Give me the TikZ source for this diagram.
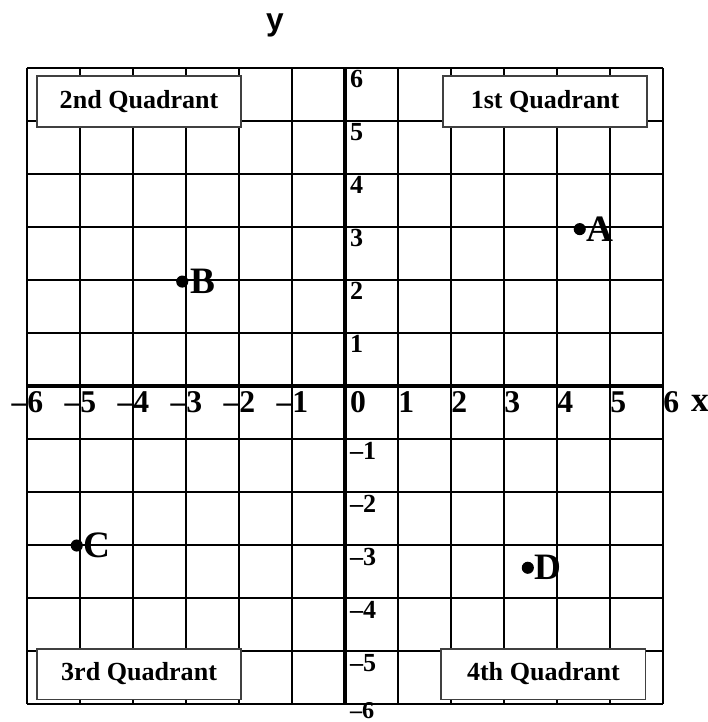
\documentclass[tikz,border=0pt]{standalone}
\usepackage{fontspec}
\setmainfont{Liberation Serif}
\newfontfamily\arialfont{Liberation Sans}
\tikzset{
  quadbox/.style={draw=black!75,line width=1pt,fill=white,minimum width=3.85cm,minimum height=0.96cm,font=\fontsize{14}{16}\selectfont\bfseries},
  ptlabel/.style={anchor=west,inner sep=0pt,font=\fontsize{20}{24}\selectfont\bfseries},
  ptdot/.style={circle,fill,inner sep=0pt,minimum size=6.5pt},
  xnum/.style={anchor=north west,inner sep=0pt,font=\fontsize{17}{19}\selectfont\bfseries},
  ynum/.style={anchor=north west,inner sep=0pt,font=\fontsize{14}{16}\selectfont\bfseries}
}
\begin{document}
\begin{tikzpicture}
  \useasboundingbox (-6.509,-6.34) rectangle (6.849,7.283);
  \draw[line width=1.2pt] (-6,-6) grid (6,6);
  \draw[line width=2.4pt] (-6,0) -- (6,0);
  \draw[line width=2.4pt] (0,-6) -- (0,6);
  \foreach \i in {1,...,6} {
    \node[xnum] at (\i,-0.1) {\i};
    \node[xnum] at (-\i,-0.1) {\llap{–}\i};
    \node[ynum] at (0.09,\i-0.04) {\i};
  }
  \foreach \i in {1,...,5}
    \node[ynum] at (0.09,-\i-0.06) {–\i};
  \node[ynum,anchor=south west,font=\fontsize{13}{15}\selectfont\bfseries] (ysix) at (0.09,-6.28) {–6};
  \node[xnum] (zero) at (0.09,-0.1) {0};
  \node[font=\fontsize{19}{21}\selectfont\bfseries] (xlab) at (6.70,-0.32) {x};
  \node[font=\arialfont\fontsize{17}{19}\selectfont\bfseries] (ylab) at (-1.32,6.8) {y};
  \node[quadbox] (q2) at (-3.885,5.37) {2nd Quadrant};
  \node[quadbox] (q1) at (3.775,5.37) {1st Quadrant};
  \node[quadbox] (q3) at (-3.885,-5.435) {3rd Quadrant};
  \node[quadbox] (q4) at (3.745,-5.435) {4th Quadrant};
  \node[ptdot] (a) at (4.43,2.96) {};
  \node[ptlabel] (alab) at (a.east) {A};
  \node[ptdot] (b) at (-3.07,1.97) {};
  \node[ptlabel] (blab) at ([xshift=1pt]b.east) {B};
  \node[ptdot] (c) at (-5.06,-3.01) {};
  \node[ptlabel] (clab) at (c.east) {C};
  \node[ptdot] (d) at (3.45,-3.43) {};
  \node[ptlabel] (dlab) at (d.east) {D};
\end{tikzpicture}
\end{document}
